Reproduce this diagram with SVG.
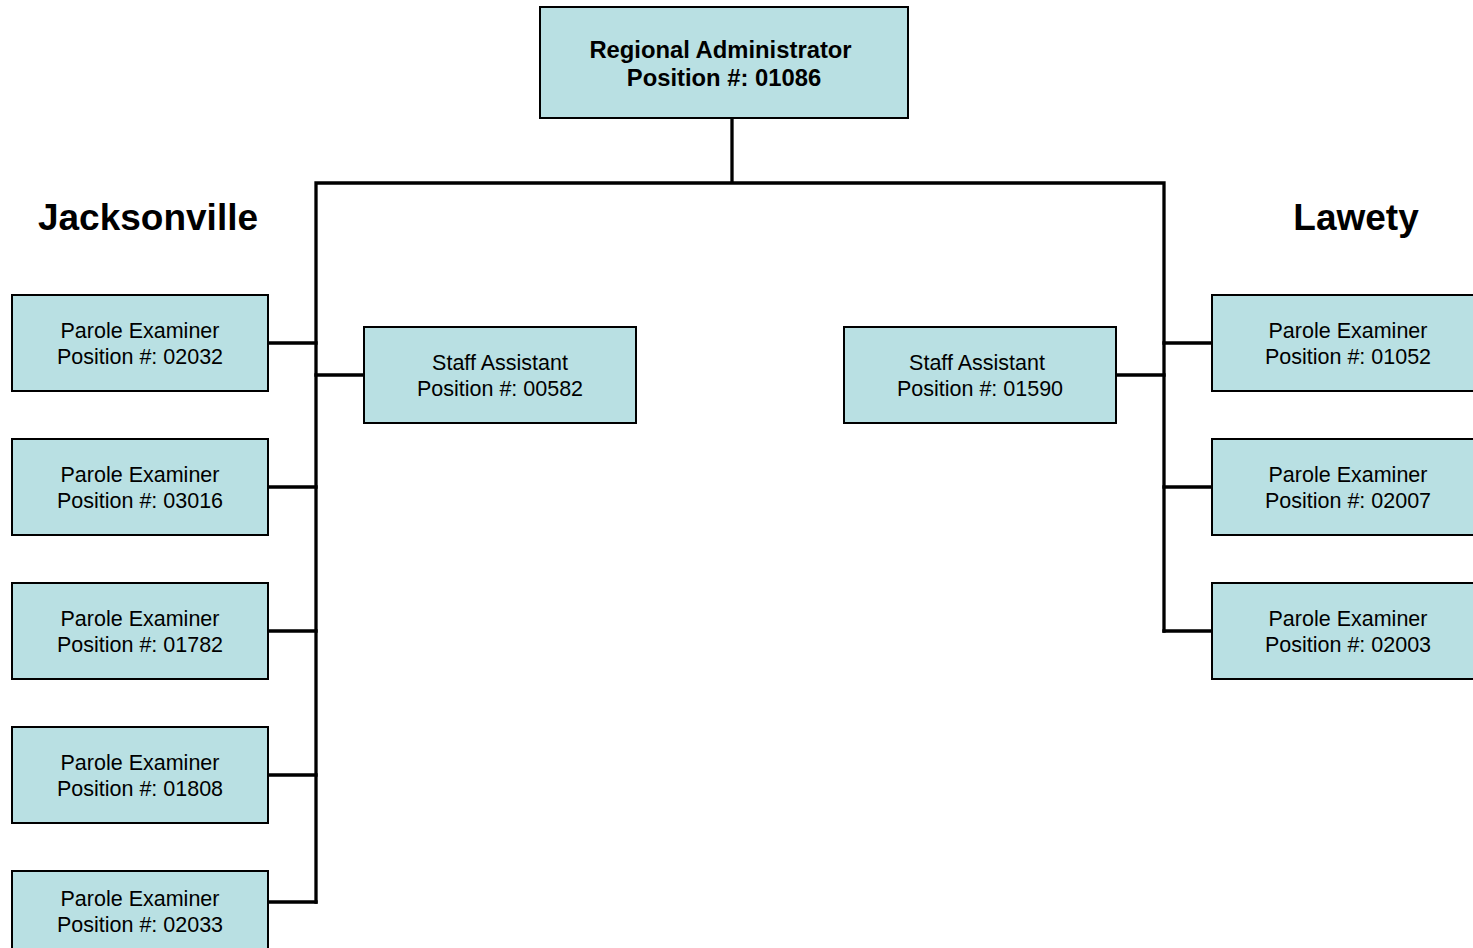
<svg xmlns="http://www.w3.org/2000/svg" width="1473" height="948" viewBox="0 0 1473 948">
<style>
.box{fill:#B9E0E3;stroke:#000;stroke-width:2}
.t{font-family:"Liberation Sans",Arial,sans-serif;font-size:21.5px;fill:#000;text-anchor:middle}
.b{font-family:"Liberation Sans",Arial,sans-serif;font-weight:bold;fill:#000;text-anchor:middle}
.c{fill:none;stroke:#000;stroke-width:3.3;stroke-linecap:square}
</style>
<rect width="1473" height="948" fill="#fff"/>
<g id="connectors">
<path class="c" d="M732 119V183M316 183H1164M316 183V902M1164 183V631"/>
<path class="c" d="M269 343H316M269 487H316M269 631H316M269 775H316M269 902H316M316 375H363"/>
<path class="c" d="M1164 343H1211M1164 487H1211M1164 631H1211M1117 375H1164"/>
</g>
<g id="regional-administrator">
<rect class="box" x="540" y="7" width="368" height="111"/>
<text class="b" x="720.5" y="58" font-size="23.8">Regional Administrator</text>
<text class="b" x="724" y="86" font-size="23.8">Position #: 01086</text>
</g>
<g id="label-jacksonville"><text class="b" x="148" y="230" font-size="37">Jacksonville</text></g>
<g id="label-lawety"><text class="b" x="1356" y="230" font-size="37">Lawety</text></g>
<g id="pe-02032"><rect class="box" x="12" y="295" width="256" height="96"/><text class="t" x="140" y="338">Parole Examiner</text><text class="t" x="140" y="364">Position #: 02032</text></g>
<g id="pe-03016"><rect class="box" x="12" y="439" width="256" height="96"/><text class="t" x="140" y="482">Parole Examiner</text><text class="t" x="140" y="508">Position #: 03016</text></g>
<g id="pe-01782"><rect class="box" x="12" y="583" width="256" height="96"/><text class="t" x="140" y="626">Parole Examiner</text><text class="t" x="140" y="652">Position #: 01782</text></g>
<g id="pe-01808"><rect class="box" x="12" y="727" width="256" height="96"/><text class="t" x="140" y="770">Parole Examiner</text><text class="t" x="140" y="796">Position #: 01808</text></g>
<g id="pe-02033"><rect class="box" x="12" y="871" width="256" height="96"/><text class="t" x="140" y="906">Parole Examiner</text><text class="t" x="140" y="932">Position #: 02033</text></g>
<g id="sa-00582"><rect class="box" x="364" y="327" width="272" height="96"/><text class="t" x="500" y="370">Staff Assistant</text><text class="t" x="500" y="396">Position #: 00582</text></g>
<g id="sa-01590"><rect class="box" x="844" y="327" width="272" height="96"/><text class="t" x="977" y="370">Staff Assistant</text><text class="t" x="980" y="396">Position #: 01590</text></g>
<g id="pe-01052"><rect class="box" x="1212" y="295" width="272" height="96"/><text class="t" x="1348" y="338">Parole Examiner</text><text class="t" x="1348" y="364">Position #: 01052</text></g>
<g id="pe-02007"><rect class="box" x="1212" y="439" width="272" height="96"/><text class="t" x="1348" y="482">Parole Examiner</text><text class="t" x="1348" y="508">Position #: 02007</text></g>
<g id="pe-02003"><rect class="box" x="1212" y="583" width="272" height="96"/><text class="t" x="1348" y="626">Parole Examiner</text><text class="t" x="1348" y="652">Position #: 02003</text></g>
</svg>
